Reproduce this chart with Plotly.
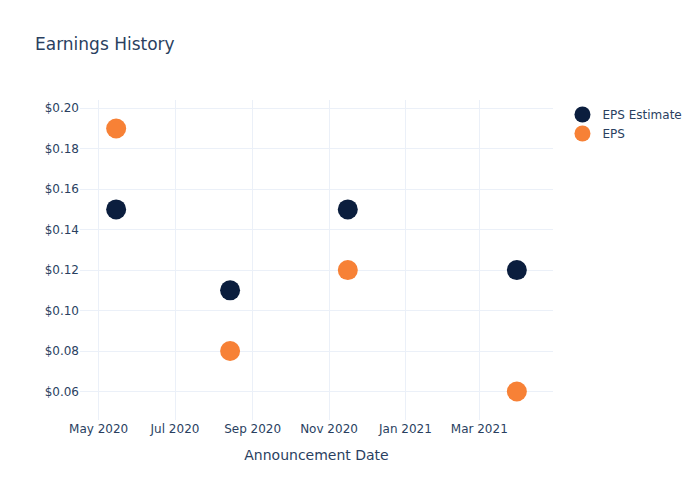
import plotly.graph_objects as go

dates = ["2020-05-15", "2020-08-14", "2020-11-16", "2021-03-31"]
eps_estimate = [0.15, 0.11, 0.15, 0.12]
eps_actual = [0.19, 0.08, 0.12, 0.06]

fig = go.Figure()
fig.add_trace(go.Scatter(x=dates, y=eps_estimate, mode="markers", name="EPS Estimate",
                         marker=dict(color="#0b1e3e", size=20)))
fig.add_trace(go.Scatter(x=dates, y=eps_actual, mode="markers", name="EPS",
                         marker=dict(color="#f78136", size=20)))
fig.update_layout(
    template="plotly_white",
    width=692, height=492,
    margin=dict(l=72, r=147, t=92, b=80),
    font=dict(family="DejaVu Sans"),
    title=dict(text="Earnings History", x=27/692, xanchor="left",
               y=1 - 36/492, yanchor="middle"),
    xaxis=dict(title=dict(text="Announcement Date"), dtick="M2", tickformat="%b %Y"),
    yaxis=dict(tickformat="$.2f"),
)
fig.write_html("out.html")
